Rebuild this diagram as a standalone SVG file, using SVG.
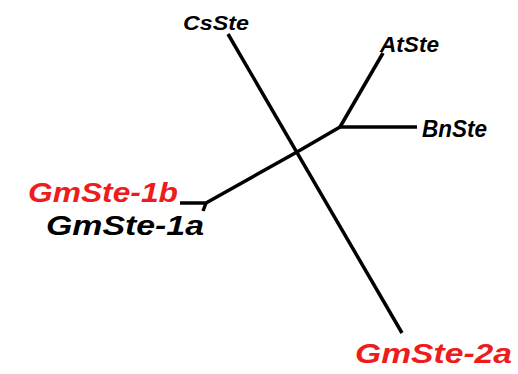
<svg xmlns="http://www.w3.org/2000/svg" width="518" height="374" viewBox="0 0 518 374">
  <style>
    .branch { stroke: #000; stroke-width: 3.5; fill: none; stroke-linecap: butt; stroke-linejoin: miter; }
    .lbl { font-family: "Liberation Sans", Arial, Helvetica, sans-serif; font-style: italic; font-weight: bold; }
    .blk { fill: #000; }
    .red { fill: #ee1c1c; }
  </style>
  <rect width="518" height="374" fill="#fff"/>

  <!-- unrooted tree branches -->
  <g id="connectors">
    <line class="branch" x1="228" y1="34" x2="402" y2="333"/>
    <line class="branch" x1="297" y1="152" x2="340" y2="127"/>
    <line class="branch" x1="340" y1="127" x2="383" y2="53"/>
    <line class="branch" x1="339" y1="127" x2="417" y2="127"/>
    <line class="branch" x1="297" y1="152" x2="206" y2="203"/>
    <line class="branch" x1="180" y1="203" x2="207" y2="203"/>
    <line class="branch" x1="206" y1="203" x2="203" y2="211"/>
  </g>

  <!-- leaf labels -->
  <g id="CsSte"><text class="lbl blk" x="183" y="30" font-size="21" textLength="66" lengthAdjust="spacingAndGlyphs">CsSte</text></g>
  <g id="AtSte"><text class="lbl blk" x="380" y="52" font-size="22" textLength="59" lengthAdjust="spacingAndGlyphs">AtSte</text></g>
  <g id="BnSte"><text class="lbl blk" x="422" y="137" font-size="23" textLength="65" lengthAdjust="spacingAndGlyphs">BnSte</text></g>
  <g id="GmSte-1b"><text class="lbl red" x="28" y="202" font-size="28" textLength="150" lengthAdjust="spacingAndGlyphs">GmSte-1b</text></g>
  <g id="GmSte-1a"><text class="lbl blk" x="46" y="235" font-size="28" textLength="158" lengthAdjust="spacingAndGlyphs">GmSte-1a</text></g>
  <g id="GmSte-2a"><text class="lbl red" x="355" y="363" font-size="28" textLength="157" lengthAdjust="spacingAndGlyphs">GmSte-2a</text></g>
</svg>
